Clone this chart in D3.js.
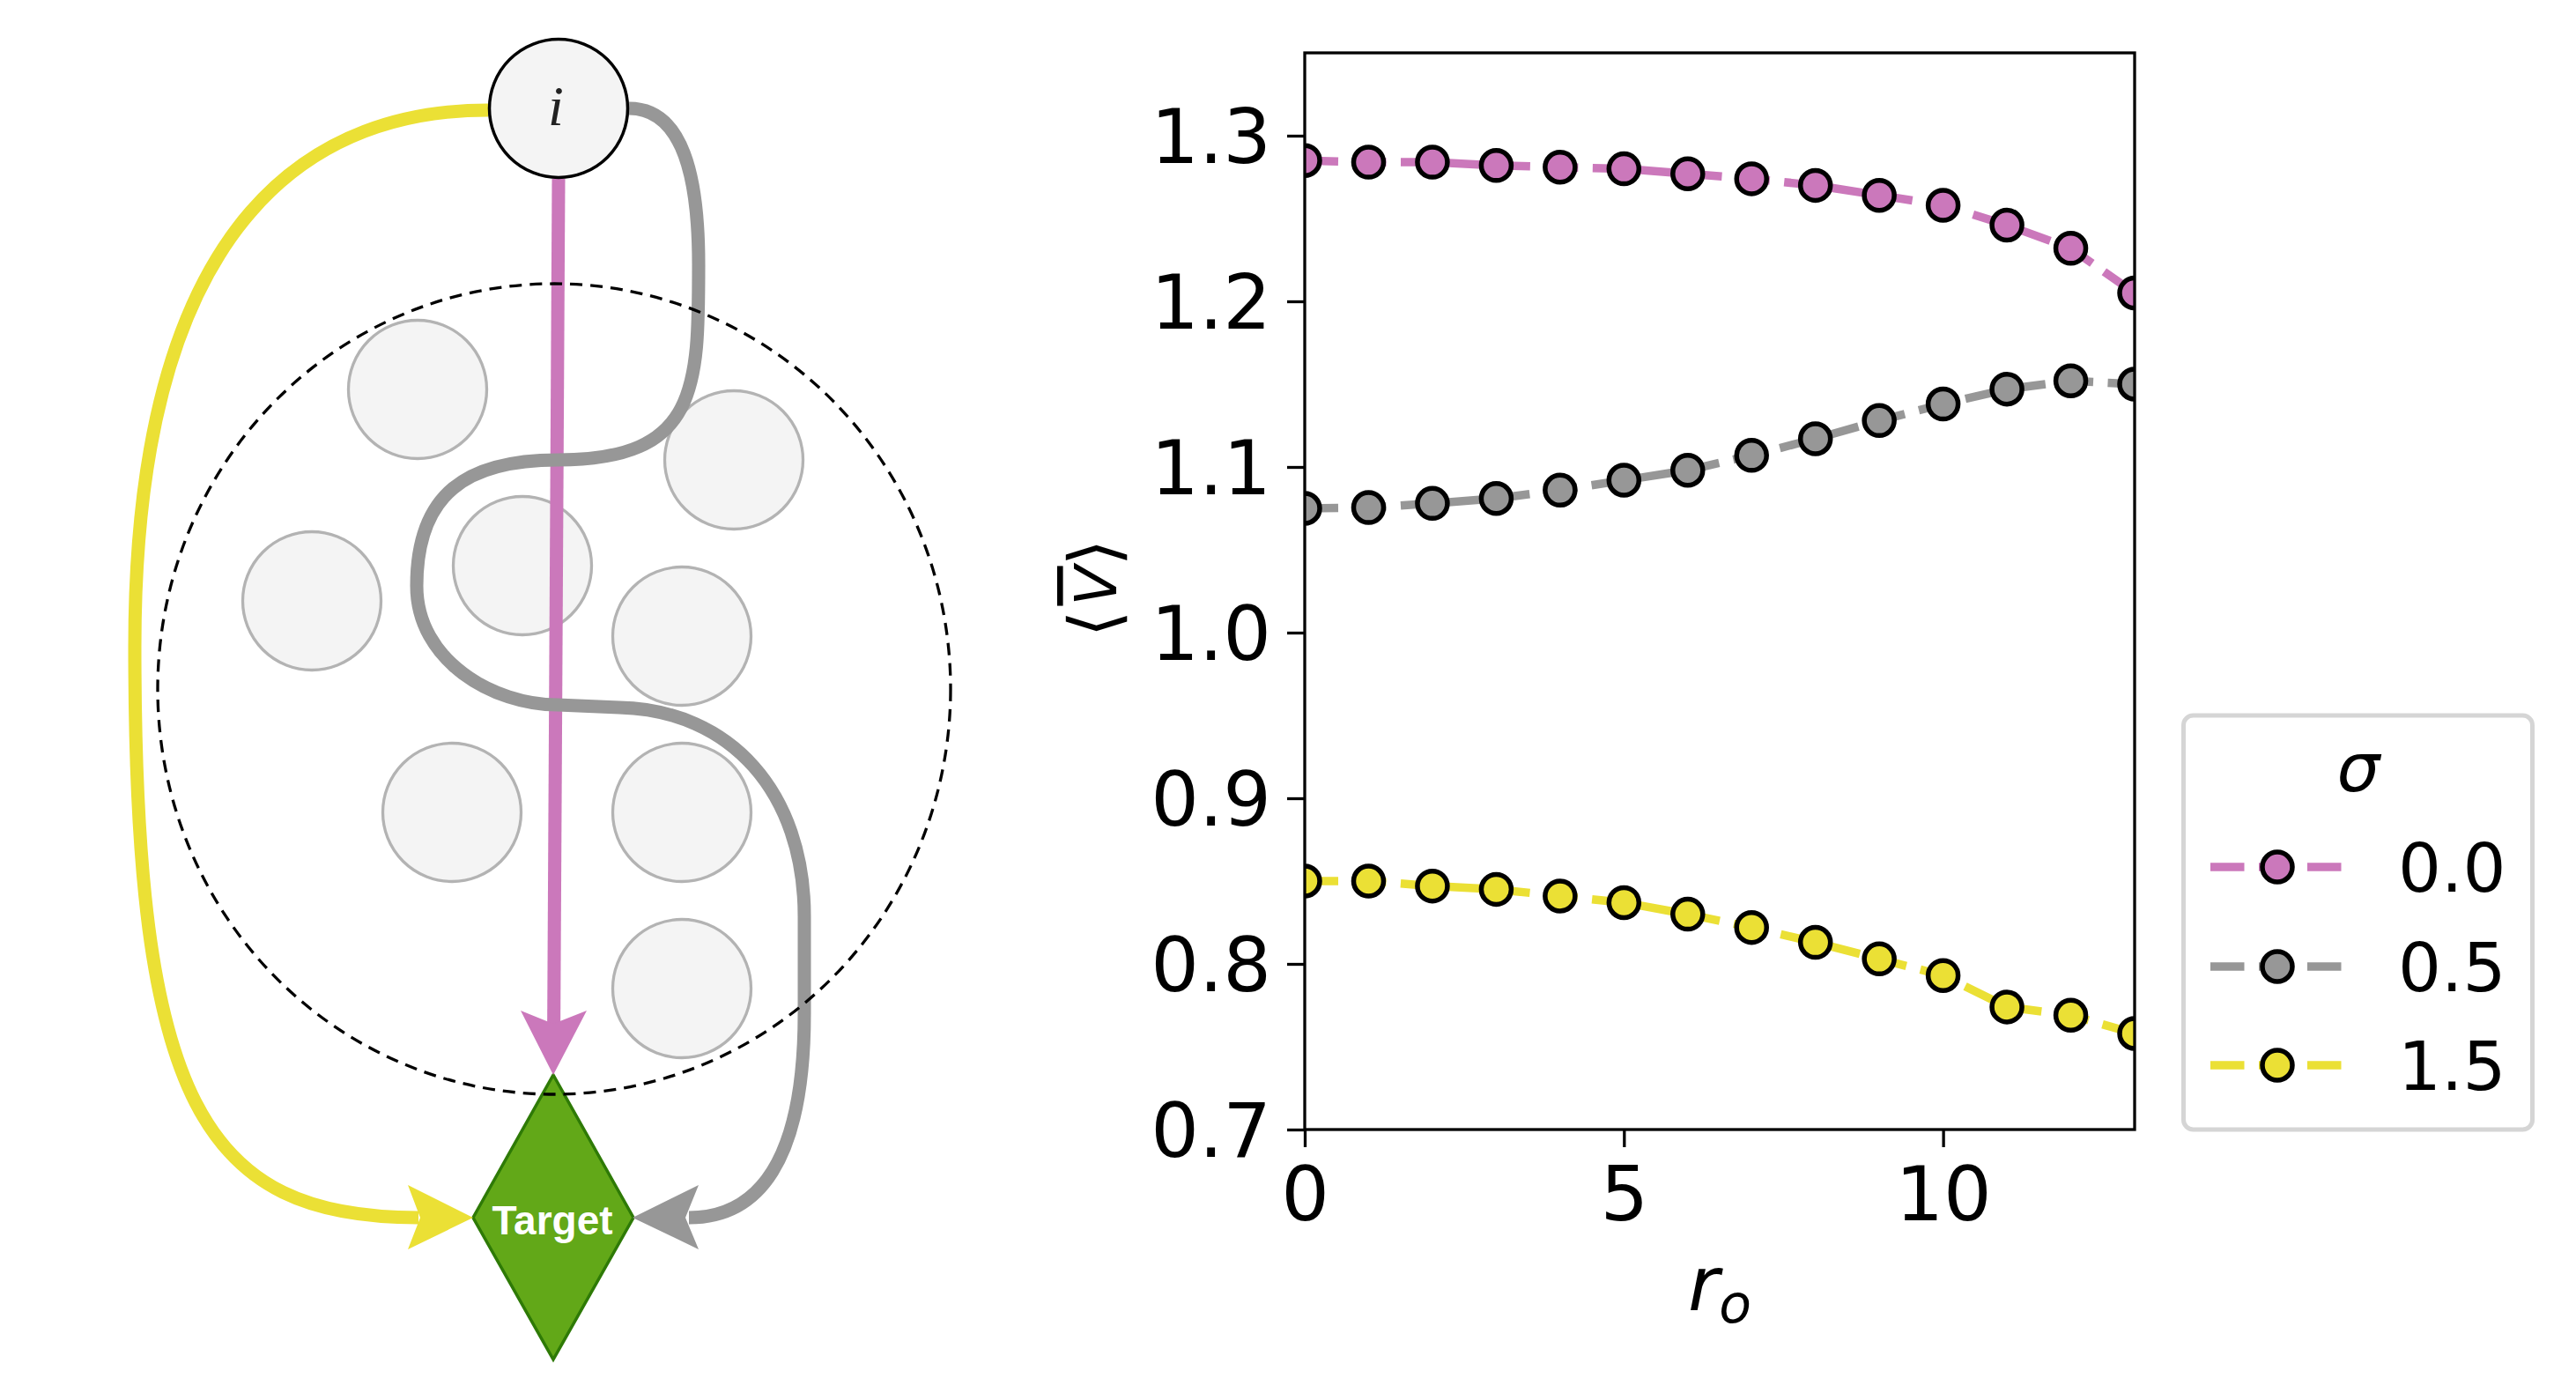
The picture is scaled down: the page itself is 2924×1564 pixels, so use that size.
<!DOCTYPE html>
<html><head><meta charset="utf-8">
<script src="https://cdn.jsdelivr.net/npm/d3@7"></script>
<style>body{margin:0;background:#fff}</style>
</head><body><svg id="c" width="2924" height="1564" xmlns="http://www.w3.org/2000/svg"></svg>
<script>
// ---------- data ----------
const rValues = [0, 1, 2, 3, 4, 5, 6, 7, 8, 9, 10, 11, 12, 13];
const sigmaLabels = ["0.0", "0.5", "1.5"];
const vSigma00 = [1.285, 1.284, 1.284, 1.282, 1.281, 1.280, 1.277, 1.274, 1.270, 1.264, 1.258, 1.246, 1.232, 1.205];
const vSigma05 = [1.075, 1.0755, 1.078, 1.081, 1.086, 1.092, 1.098, 1.107, 1.117, 1.128, 1.138, 1.147, 1.152, 1.150];
const vSigma15 = [0.850, 0.850, 0.847, 0.845, 0.841, 0.837, 0.830, 0.822, 0.813, 0.803, 0.793, 0.774, 0.769, 0.758];
const xTicks = [0, 5, 10];
const yTicks = [0.7, 0.8, 0.9, 1.0, 1.1, 1.2, 1.3];
const seriesValues = [vSigma00, vSigma05, vSigma15];
const seriesColors = ["#cb78bb", "#979797", "#ebe035"];

const svg = d3.select("#c");
svg.append("rect").attr("width", 2924).attr("height", 1564).attr("fill", "#fff");

// ---------- schematic (left) ----------
const D = svg.append("g");
const obstacles = [[474,442],[833,522],[354,682],[593,642],[774,722],[513,922],[774,922],[774,1122]];
D.selectAll("circle.obs").data(obstacles).join("circle").attr("class","obs")
  .attr("cx", d => d[0]).attr("cy", d => d[1]).attr("r", 78.5)
  .attr("fill", "#f4f4f4").attr("stroke", "#b3b3b3").attr("stroke-width", 3.3);

D.append("path").attr("d", "M628,1220 L719,1382 L628,1543 L537,1382 Z")
  .attr("fill", "#62a818").attr("stroke", "#2e7a06").attr("stroke-width", 3.5);
D.append("text").attr("x", 627).attr("y", 1401).attr("text-anchor", "middle")
  .attr("font-family", "Liberation Sans, Arial, sans-serif").attr("font-weight", "bold")
  .attr("font-size", 46).attr("fill", "#fff").text("Target");

// pink (direct)
D.append("path").attr("d", "M634,203 L628.6,1168").attr("stroke", seriesColors[0])
  .attr("stroke-width", 15).attr("fill", "none");
D.append("path").attr("d", "M628,1220 L591,1147 L628,1162 L666,1147 Z").attr("fill", seriesColors[0]);

// grey (winding)
D.append("path")
  .attr("d", "M714,123 C775,123 793,200 793,300 C793,440 793,522 633,522 C530,522 473,560 473,665 C473,750 560,800 633,800 L703,803 C830,806 913,900 913,1040 L913,1150 C913,1320 860,1382 782,1382")
  .attr("stroke", seriesColors[1]).attr("stroke-width", 15).attr("fill", "none");
D.append("path").attr("d", "M718,1382 L793,1345 L778,1382 L793,1418 Z").attr("fill", seriesColors[1]);

// yellow (around)
D.append("path")
  .attr("d", "M554,125 C370,125 153,230 153,734 C153,1250 230,1382 475,1382")
  .attr("stroke", seriesColors[2]).attr("stroke-width", 15).attr("fill", "none");
D.append("path").attr("d", "M537,1382 L463,1345 L477,1382 L463,1418 Z").attr("fill", seriesColors[2]);

// agent i
D.append("circle").attr("cx", 634).attr("cy", 123).attr("r", 78.5)
  .attr("fill", "#f4f4f4").attr("stroke", "#000").attr("stroke-width", 3.5);
D.append("text").attr("x", 631).attr("y", 142).attr("text-anchor", "middle")
  .attr("font-family", "Liberation Serif, serif").attr("font-style", "italic")
  .attr("font-size", 64).attr("fill", "#222").text("i");

// dashed neighbourhood
D.append("ellipse").attr("cx", 629).attr("cy", 782).attr("rx", 450).attr("ry", 460)
  .attr("fill", "none").attr("stroke", "#000").attr("stroke-width", 3.3)
  .attr("stroke-dasharray", "14,9");

// ---------- chart (right) ----------
const L = 1481, R = 2423, T = 60, B = 1282;
const x = d3.scaleLinear().domain([0, 13]).range([L, R]);
const y = d3.scaleLinear().domain([0.7, 1.35]).range([B, T]);
const FONT = "DejaVu Sans, sans-serif";

svg.append("defs").append("clipPath").attr("id", "clip")
  .append("rect").attr("x", L).attr("y", T).attr("width", R - L).attr("height", B - T);

const plot = svg.append("g").attr("clip-path", "url(#clip)");
const line = d3.line().x((d, i) => x(rValues[i])).y(d => y(d));
seriesValues.forEach((vals, k) => {
  plot.append("path").datum(vals).attr("d", line).attr("fill", "none")
    .attr("stroke", seriesColors[k]).attr("stroke-width", 9.5)
    .attr("stroke-dasharray", "38,16.5");
});
seriesValues.forEach((vals, k) => {
  plot.append("g").selectAll("circle").data(vals).join("circle")
    .attr("cx", (d, i) => x(rValues[i])).attr("cy", d => y(d)).attr("r", 17)
    .attr("fill", seriesColors[k]).attr("stroke", "#000").attr("stroke-width", 5.5);
});

const yAxis = svg.append("g").attr("transform", `translate(${L},0)`)
  .call(d3.axisLeft(y).tickValues(yTicks).tickSize(20).tickSizeOuter(0).tickPadding(18)
    .tickFormat(d3.format(".1f")));
const xAxis = svg.append("g").attr("transform", `translate(0,${B})`)
  .call(d3.axisBottom(x).tickValues(xTicks).tickSize(20).tickSizeOuter(0).tickPadding(22)
    .tickFormat(d3.format("d")));
[yAxis, xAxis].forEach(a => {
  a.select(".domain").remove();
  a.selectAll(".tick line").attr("stroke", "#000").attr("stroke-width", 3.3);
  a.selectAll(".tick text").attr("font-family", FONT).attr("font-size", 86).attr("fill", "#000");
});
yAxis.selectAll(".tick text").attr("dy", "0.36em");

svg.append("rect").attr("x", L).attr("y", T).attr("width", R - L).attr("height", B - T)
  .attr("fill", "none").attr("stroke", "#000").attr("stroke-width", 3.3);

// axis labels
const yl = svg.append("g").attr("transform", "translate(1267,668) rotate(-90)")
  .attr("font-family", FONT).attr("text-anchor", "middle");
yl.append("text").attr("x", -40).attr("y", 2).attr("font-size", 78).text("\u27E8");
yl.append("text").attr("x", 3).attr("y", 0).attr("font-size", 66).attr("font-style", "italic")
  .attr("text-decoration", "overline").text("V");
yl.append("text").attr("x", 41).attr("y", 2).attr("font-size", 78).text("\u27E9");

const xl = svg.append("text").attr("x", 1952).attr("y", 1487).attr("text-anchor", "middle")
  .attr("font-family", FONT).attr("font-size", 86).attr("font-style", "italic");
xl.append("tspan").text("r");
xl.append("tspan").attr("font-size", 60).attr("dy", 14).text("o");

// legend
const lg = svg.append("g");
lg.append("rect").attr("x", 2478.5).attr("y", 812).attr("width", 396).attr("height", 470)
  .attr("rx", 11).attr("fill", "#fff").attr("stroke", "#d5d5d5").attr("stroke-width", 5);
lg.append("text").attr("x", 2677).attr("y", 898).attr("text-anchor", "middle")
  .attr("font-family", FONT).attr("font-style", "italic").attr("font-size", 77).text("\u03C3");
const rowY = [984, 1097, 1209];
sigmaLabels.forEach((lab, k) => {
  lg.append("line").attr("x1", 2509).attr("x2", 2659).attr("y1", rowY[k]).attr("y2", rowY[k])
    .attr("stroke", seriesColors[k]).attr("stroke-width", 9.5).attr("stroke-dasharray", "38.5,16.5");
  lg.append("circle").attr("cx", 2585).attr("cy", rowY[k]).attr("r", 17)
    .attr("fill", seriesColors[k]).attr("stroke", "#000").attr("stroke-width", 5.5);
  lg.append("text").attr("x", 2722).attr("y", rowY[k] + 28).attr("font-family", FONT)
    .attr("font-size", 77).text(lab);
});
</script></body></html>
